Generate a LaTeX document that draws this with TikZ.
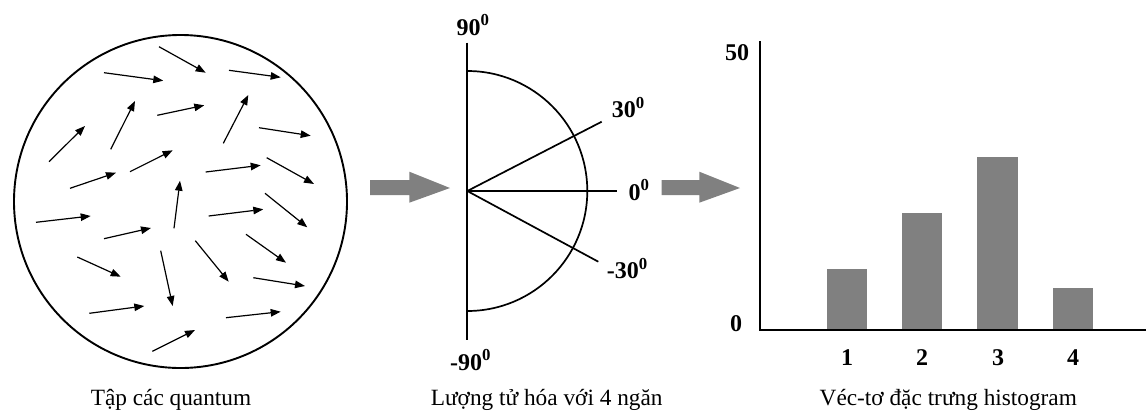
\documentclass[tikz,border=0pt]{standalone}
\usepackage{fontspec}
\setmainfont{Liberation Serif}
\usetikzlibrary{arrows.meta}
\definecolor{bargray}{HTML}{808080}
\tikzset{
  qarrow/.style={line width=1.2pt, -{Triangle[length=10pt,width=7.5pt]}},
  lbl/.style={inner sep=0pt, anchor=base west, font=\fontsize{24}{24}\selectfont\bfseries},
  numlbl/.style={inner sep=0pt, anchor=base, font=\fontsize{24}{24}\selectfont\bfseries},
  captext/.style={inner sep=0pt, anchor=base, font=\fontsize{23.3}{24}\selectfont},
  bigarrow/.style={fill=bargray, draw=none},
  hbar/.style={fill=bargray, draw=none},
  axisline/.style={line width=2.2pt}
}
\begin{document}
\begin{tikzpicture}[x=1pt,y=-1pt]
\useasboundingbox (0,0) rectangle (1146,410);
% ---- panel 1: circle of quanta
\node[draw, circle, line width=1.9pt, minimum size=333pt, inner sep=0pt] (disk) at (180.5,201.5) {};
\foreach \ax/\ay/\bx/\by in {
 159/46.7/205.7/72.7, 104/72.7/163.3/80.7, 229/70.3/280.7/77.3,
 157.3/115.3/204.3/105.3, 110.7/149.3/135/101, 223.3/143.3/248.3/95,
 49/161.7/85/126, 259/127.7/310.7/135.7, 70/188.3/116/172.7,
 130/171.7/172.7/150.3, 205.7/172/260.7/165.3, 266.7/157.7/314/184,
 36/222.3/90.7/216, 174/228.3/180/180.7, 208.7/216/263.3/209.3,
 265/193.3/307.3/227.3, 104/238.7/151/228, 77.3/257/120.7/276.7,
 160.7/250.7/172.7/306, 195.3/240.7/228.7/281.7, 246/234.3/286/262.7,
 253.3/277.7/305/286, 89.3/313.3/144.3/306, 226/317.7/280.7/311.7,
 152.3/351.3/195/330}
 \draw[qarrow] (\ax,\ay) -- (\bx,\by);
\node[captext] (cap1) at (171,405) {Tập các quantum};
% ---- arrow 1
\fill[bigarrow] (370,180) -- (409.3,180) -- (409.3,171.7) -- (450,188) -- (409.3,202.7) -- (409.3,195) -- (370,195) -- cycle;
% ---- panel 2: quantization
\coordinate (o) at (467.3,191);
\coordinate (top) at (467.3,42.7);
\coordinate (bot) at (467.3,340);
\draw[axisline] (top) -- (bot);
\draw[line width=1.7pt] (467.3,71) arc[start angle=-90, end angle=90, radius=120];
\coordinate (e0) at (616.7,191);
\coordinate (e30) at (601.7,121.7);
\coordinate (em30) at (598.3,261.7);
\draw[line width=1.7pt] (o) -- (e0);
\draw[line width=1.7pt] (o) -- (e30);
\draw[line width=1.7pt] (o) -- (em30);
\node[lbl] (l90) at (456.5,35) {90\textsuperscript{0}};
\node[lbl] (l30) at (611.7,117.3) {30\textsuperscript{0}};
\node[lbl] (l0) at (628.3,200) {0\textsuperscript{0}};
\node[lbl] (lm30) at (606.7,278.3) {-30\textsuperscript{0}};
\node[lbl] (lm90) at (450,370) {-90\textsuperscript{0}};
\node[captext] (cap2) at (546.7,405) {Lượng tử hóa với 4 ngăn};
% ---- arrow 2
\fill[bigarrow] (661.7,180) -- (699.3,180) -- (699.3,171.7) -- (740,188) -- (699.3,202.7) -- (699.3,195) -- (661.7,195) -- cycle;
% ---- panel 3: histogram
\coordinate (yt) at (760,41.7);
\coordinate (orig) at (760,330);
\coordinate (xr) at (1146,330);
\fill[hbar] (826.7,269.3) rectangle (867,329);
\fill[hbar] (902,213) rectangle (942.3,329);
\fill[hbar] (977.3,157) rectangle (1017.7,329);
\fill[hbar] (1052.7,287.7) rectangle (1093,329);
\draw[axisline, line cap=rect] (yt) -- (orig) -- (xr);
\node[lbl] (y50) at (725,60.7) {50};
\node[lbl] (y0) at (730,331.7) {0};
\node[numlbl] (x1) at (847,365) {1};
\node[numlbl] (x2) at (922,365) {2};
\node[numlbl] (x3) at (998,365) {3};
\node[numlbl] (x4) at (1073,365) {4};
\node[captext] (cap3) at (948.3,405) {Véc-tơ đặc trưng histogram};
\end{tikzpicture}
\end{document}
